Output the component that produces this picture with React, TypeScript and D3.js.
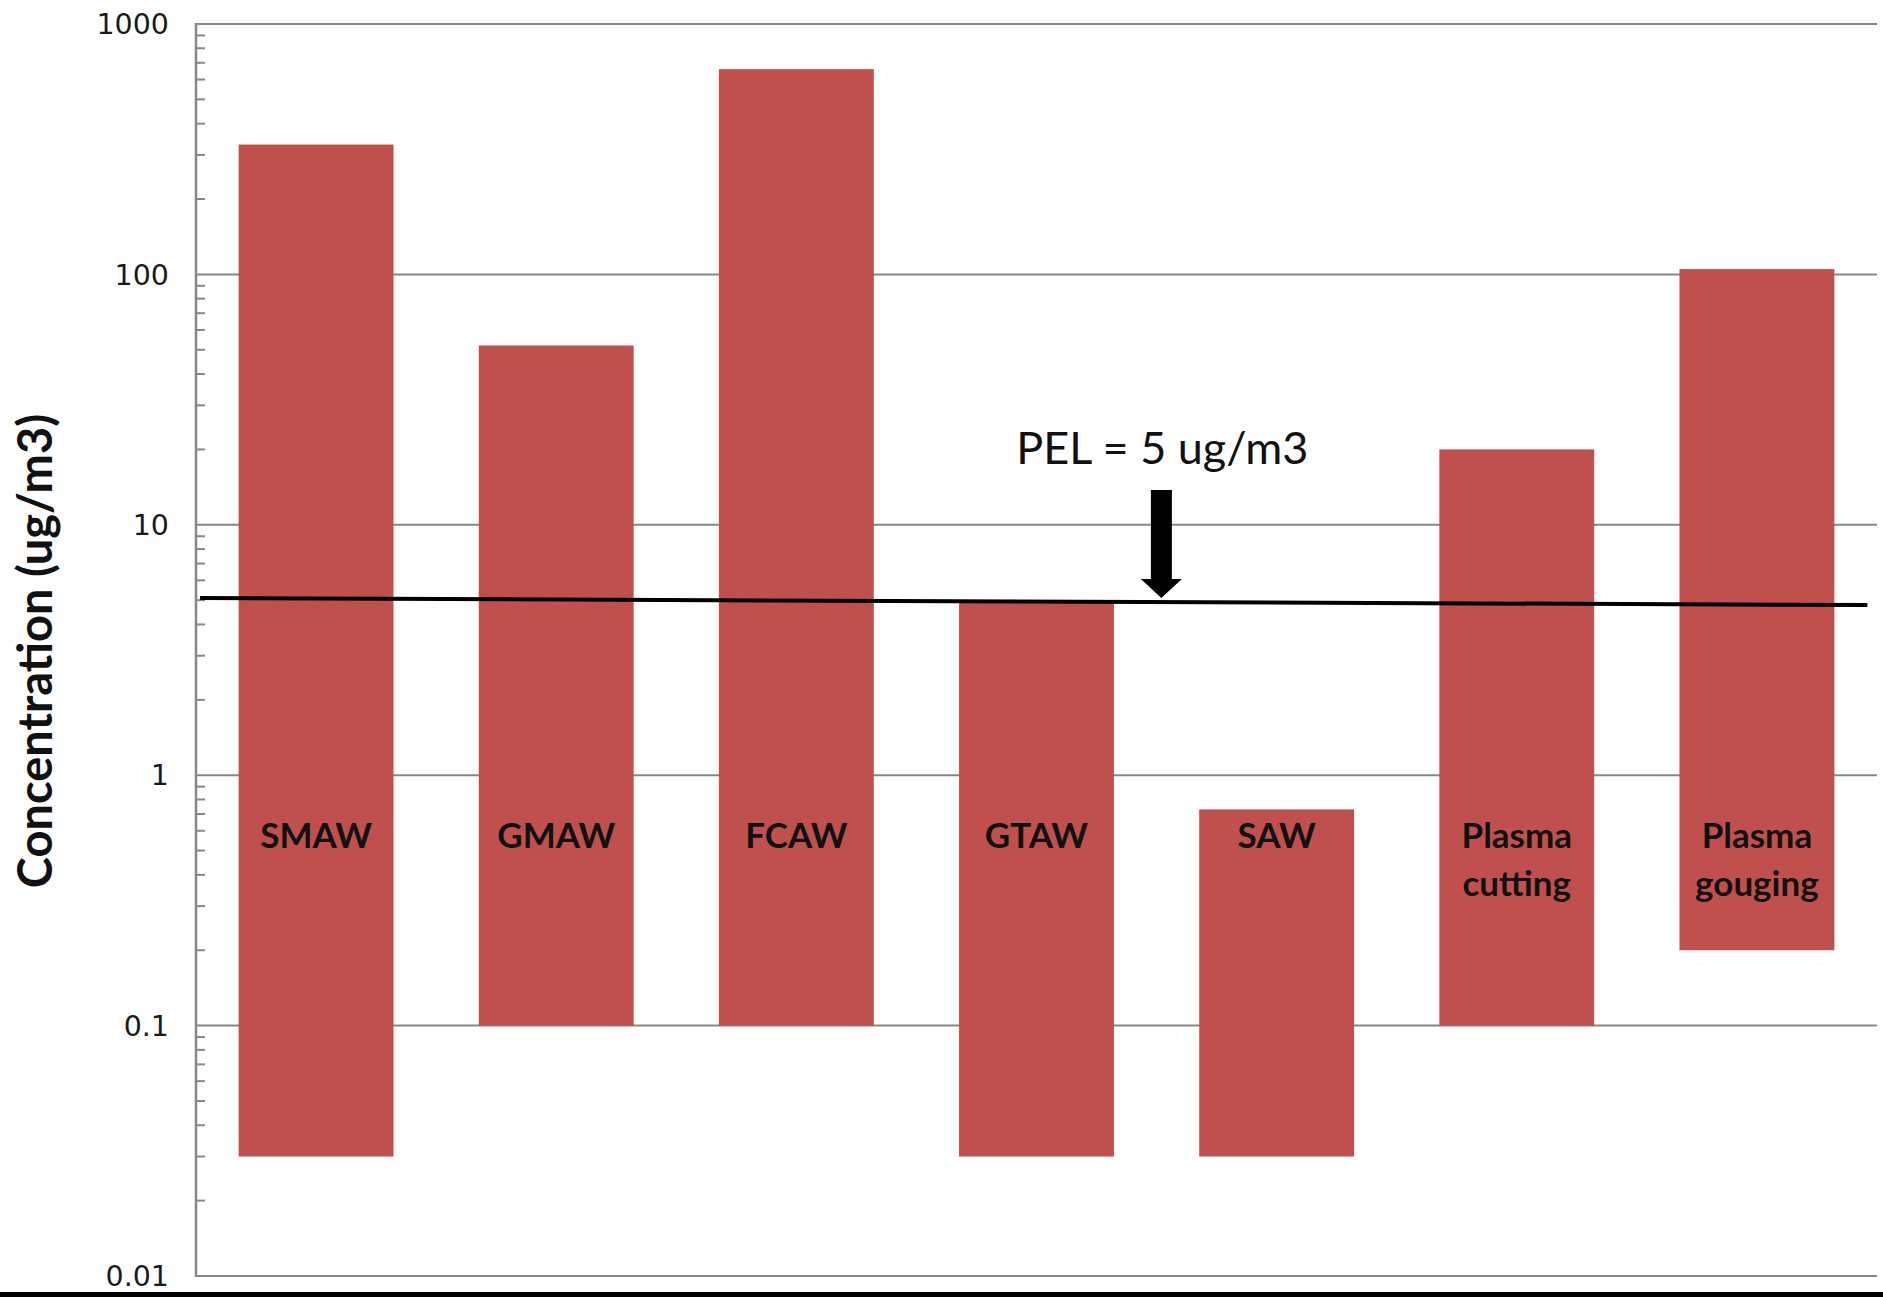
import React from "react";
import * as d3 from "d3";

const categories = ["SMAW", "GMAW", "FCAW", "GTAW", "SAW", "Plasma cutting", "Plasma gouging"];
const labelLines = [["SMAW"], ["GMAW"], ["FCAW"], ["GTAW"], ["SAW"], ["Plasma", "cutting"], ["Plasma", "gouging"]];
const lowValues = [0.03, 0.1, 0.1, 0.03, 0.03, 0.1, 0.2];
const highValues = [330, 52, 660, 5, 0.73, 20, 105];
const majorTicks = [0.01, 0.1, 1, 10, 100, 1000];
const tickLabels = ["0.01", "0.1", "1", "10", "100", "1000"];
const pelValue = 5;
const pelStartValue = 5.1;
const pelEndValue = 4.78;
const pelLabel = "PEL = 5 ug/m3";
const yTitle = "Concentration (ug/m3)";

const W = 1883;
const H = 1297;
const left = 196;
const right = 1877;
const top = 24;
const bottom = 1276;

export default function App() {
  React.useEffect(() => {
    document.body.style.margin = "0";
  }, []);

  const y = d3.scaleLog().domain([0.01, 1000]).range([bottom, top]);
  const x = d3.scaleBand<string>().domain(categories).range([left, right]).paddingInner(0.355).paddingOuter(0.1775);
  const xu = d3.scaleLinear().domain([0, categories.length]).range([left, right]);

  const minor: number[] = [];
  for (let e = -2; e < 3; e++) {
    for (let m = 2; m <= 9; m++) minor.push(m * Math.pow(10, e));
  }

  const gray = "#878787";
  const barColor = "#C0504D";

  const pelX0 = xu(0.017);
  const pelX1 = xu(6.96);
  const pelY0 = y(pelStartValue);
  const pelY1 = y(pelEndValue);
  const arrowX = xu(4.02);
  const t = (arrowX - pelX0) / (pelX1 - pelX0);
  const lineYAtArrow = pelY0 + t * (pelY1 - pelY0);
  const tipY = lineYAtArrow - 4;
  const shaftTop = tipY - 108;
  const headLen = 19;
  const shaftW = 21;
  const headW = 41;

  const arrowPath = d3.path();
  arrowPath.moveTo(arrowX - shaftW / 2, shaftTop);
  arrowPath.lineTo(arrowX + shaftW / 2, shaftTop);
  arrowPath.lineTo(arrowX + shaftW / 2, tipY - headLen);
  arrowPath.lineTo(arrowX + headW / 2, tipY - headLen);
  arrowPath.lineTo(arrowX, tipY);
  arrowPath.lineTo(arrowX - headW / 2, tipY - headLen);
  arrowPath.lineTo(arrowX - shaftW / 2, tipY - headLen);
  arrowPath.closePath();

  return (
    <svg width={W} height={H} style={{ display: "block", position: "absolute", left: 0, top: 0, background: "#fff" }}>
      <rect x={0} y={0} width={W} height={H} fill="#fff" />
      {/* gridlines */}
      {majorTicks.map((v) => (
        <line key={"g" + v} x1={left} x2={right} y1={y(v)} y2={y(v)} stroke={gray} strokeWidth={2} />
      ))}
      {/* minor ticks */}
      {minor.map((v) => (
        <line key={"m" + v} x1={left} x2={left + 9} y1={y(v)} y2={y(v)} stroke={gray} strokeWidth={2} />
      ))}
      {/* bars */}
      {categories.map((c, i) => (
        <rect
          key={c}
          x={x(c)}
          width={x.bandwidth()}
          y={y(highValues[i])}
          height={y(lowValues[i]) - y(highValues[i])}
          fill={barColor}
        />
      ))}
      {/* axis line */}
      <line x1={left} x2={left} y1={top - 1} y2={bottom + 1} stroke={gray} strokeWidth={2.5} />
      {/* tick labels */}
      {majorTicks.map((v, i) => (
        <text
          key={"t" + v}
          x={169}
          y={y(v)}
          dy="0.36em"
          textAnchor="end"
          fontFamily="'DejaVu Sans', Verdana, sans-serif"
          fontSize={28.5}
          fill="#1a1a1a"
        >
          {tickLabels[i]}
        </text>
      ))}
      {/* category labels */}
      {categories.map((c, i) => (
        <text
          key={"l" + c}
          x={(x(c) as number) + x.bandwidth() / 2}
          y={848}
          textAnchor="middle"
          fontFamily="Lato, 'Open Sans', sans-serif"
          fontWeight="bold"
          fontSize={35}
          fill="#111"
        >
          {labelLines[i].map((ln, j) => (
            <tspan key={j} x={(x(c) as number) + x.bandwidth() / 2} dy={j === 0 ? 0 : 48}>
              {ln}
            </tspan>
          ))}
        </text>
      ))}
      {/* PEL line */}
      <line x1={pelX0} y1={pelY0} x2={pelX1} y2={pelY1} stroke="#000" strokeWidth={4} />
      <path d={arrowPath.toString()} fill="#000" />
      <text
        x={arrowX + 1}
        y={464}
        textAnchor="middle"
        fontFamily="Lato, 'Open Sans', sans-serif"
        fontSize={45}
        fill="#111"
      >
        {pelLabel}
      </text>
      {/* y title */}
      <text
        transform={`translate(52, ${651}) rotate(-90)`}
        textAnchor="middle"
        fontFamily="Lato, 'Open Sans', sans-serif"
        fontWeight="bold"
        fontSize={47}
        fill="#111"
      >
        {yTitle}
      </text>
      {/* bottom border */}
      <rect x={0} y={1292} width={W} height={5} fill="#000" />
    </svg>
  );
}
